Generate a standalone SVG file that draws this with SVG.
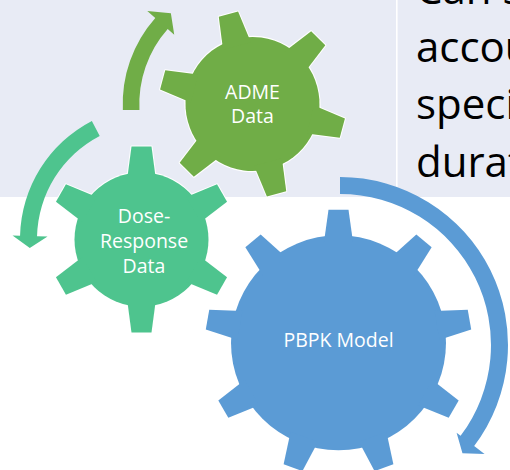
<svg xmlns="http://www.w3.org/2000/svg" width="510" height="470" viewBox="0 0 510 470">
  <style>
    .rim { fill: #ffffff; stroke: #ffffff; stroke-width: 2; stroke-linejoin: round; }
    .label { font-family: "Open Sans", "Noto Sans", "Liberation Sans", sans-serif; font-size: 19.5px; fill: #ffffff; text-anchor: middle; }
    .side { font-family: "Open Sans", "Noto Sans", "Liberation Sans", sans-serif; font-size: 42px; fill: #000000; }
  </style>
  <defs>
    <!-- one tooth, pointing up from the gear centre -->
    <polygon id="tooth-s" points="-14.4,-60 -10,-93 10,-93 14.4,-60"/>
    <polygon id="tooth-l" points="-14.6,-100 -10,-133 10,-133 14.6,-100"/>
    <!-- six-tooth gear -->
    <g id="gear6">
      <circle r="67"/>
      <use href="#tooth-s"/>
      <use href="#tooth-s" transform="rotate(60)"/>
      <use href="#tooth-s" transform="rotate(120)"/>
      <use href="#tooth-s" transform="rotate(180)"/>
      <use href="#tooth-s" transform="rotate(240)"/>
      <use href="#tooth-s" transform="rotate(300)"/>
    </g>
    <!-- nine-tooth gear -->
    <g id="gear9">
      <circle r="107.5"/>
      <use href="#tooth-l"/>
      <use href="#tooth-l" transform="rotate(40)"/>
      <use href="#tooth-l" transform="rotate(80)"/>
      <use href="#tooth-l" transform="rotate(120)"/>
      <use href="#tooth-l" transform="rotate(160)"/>
      <use href="#tooth-l" transform="rotate(200)"/>
      <use href="#tooth-l" transform="rotate(240)"/>
      <use href="#tooth-l" transform="rotate(280)"/>
      <use href="#tooth-l" transform="rotate(320)"/>
    </g>
  </defs>

  <!-- backdrop -->
  <rect x="0" y="0" width="510" height="470" fill="#ffffff"/>
  <rect x="0" y="0" width="510" height="197" fill="#E8EBF5"/>
  <rect x="396" y="0" width="1.6" height="197" fill="#ffffff"/>

  <!-- side text -->
  <g id="side-text" class="side">
    <text x="416" y="4.2">Can s</text>
    <text x="416" y="61.7">accou</text>
    <text x="416" y="119.2">speci</text>
    <text x="416" y="176.7">durat</text>
  </g>

  <!-- circular arrows -->
  <g id="connectors">
    <path fill="#70AD47" d="M139.46,110 L122.84,110 A129.8,129.8 0 0 1 155.28,18 L147.27,10.9 L170.87,13.34 L174.23,34.76 L167.71,29 A113.2,113.2 0 0 0 139.46,110 Z"/>
    <path fill="#4EC48E" d="M99.71,135.96 L91.86,120.89 A133.5,133.5 0 0 0 20.05,235.81 L12.55,235.61 L29.8,247.95 L47.54,236.52 L37.04,236.25 A116.5,116.5 0 0 1 99.71,135.96 Z"/>
    <path fill="#5B9BD5" d="M340,194 L340,177 A168,168 0 0 1 474.16,446.1 L484.55,453.93 L462.46,453.34 L456.6,432.86 L460.59,435.87 A151,151 0 0 0 340,194 Z"/>
  </g>

  <!-- gears -->
  <g id="adme" transform="translate(252.5,104)">
    <use href="#gear6" class="rim" transform="rotate(-15)"/>
    <use href="#gear6" fill="#70AD47" transform="rotate(-15)"/>
    <text class="label" x="0" y="-5.5">ADME</text>
    <text class="label" x="0" y="19">Data</text>
  </g>

  <g id="dose-response" transform="translate(141.5,239.5)">
    <use href="#gear6" class="rim"/>
    <use href="#gear6" fill="#4EC48E"/>
    <text class="label" x="2.5" y="-16.2">Dose-</text>
    <text class="label" x="2.5" y="8.8">Response</text>
    <text class="label" x="2.5" y="33.8">Data</text>
  </g>

  <g id="pbpk" transform="translate(338.5,342.7)">
    <use href="#gear9" class="rim"/>
    <use href="#gear9" fill="#5B9BD5"/>
    <text class="label" x="0" y="3.8">PBPK Model</text>
  </g>
</svg>
